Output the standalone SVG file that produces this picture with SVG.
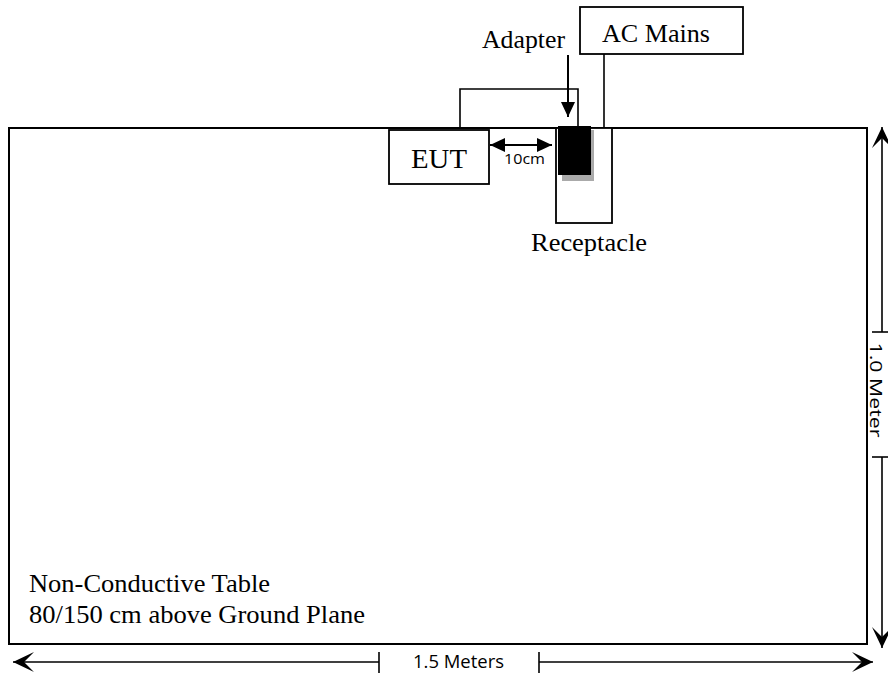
<svg xmlns="http://www.w3.org/2000/svg" width="888" height="674" viewBox="0 0 888 674">
<defs>
<style>
.box{fill:#fff;stroke:#000;stroke-width:1.8}
.ln{fill:none;stroke:#000;stroke-width:1.6}
.serif{font-family:"Liberation Serif","Times New Roman",serif;fill:#000}
.sans{font-family:"Open Sans","Liberation Sans",sans-serif;fill:#000}
</style>
<marker id="big" markerUnits="userSpaceOnUse" markerWidth="24" markerHeight="24" viewBox="-22 -12 24 24" refX="0" refY="0" orient="auto-start-reverse" overflow="visible">
<path d="M0,0 L-21,-10 L-11,0 L-21,10 Z" fill="#000"/>
</marker>
<marker id="small" markerUnits="userSpaceOnUse" markerWidth="18" markerHeight="16" viewBox="-16 -8 18 16" refX="0" refY="0" orient="auto-start-reverse" overflow="visible">
<path d="M0,0 L-15,-7 L-15,7 Z" fill="#000"/>
</marker>
</defs>
<rect width="888" height="674" fill="#fff"/>

<g id="table">
<rect x="9" y="128" width="858" height="516" fill="#fff" stroke="#000" stroke-width="2"/>
<text class="serif" x="29" y="592" font-size="26" textLength="241" lengthAdjust="spacingAndGlyphs">Non-Conductive Table</text>
<text class="serif" x="29" y="623" font-size="26" textLength="336" lengthAdjust="spacingAndGlyphs">80/150 cm above Ground Plane</text>
</g>

<g id="cable">
<path class="ln" d="M460,128 V89 H578 V128"/>
</g>

<g id="eut">
<rect class="box" x="389" y="130" width="100" height="54"/>
<text class="serif" x="411" y="168" font-size="28" textLength="56" lengthAdjust="spacingAndGlyphs">EUT</text>
</g>

<g id="receptacle">
<rect class="box" x="556" y="128" width="56" height="95"/>
<text class="serif" x="531" y="251" font-size="26" textLength="116" lengthAdjust="spacingAndGlyphs">Receptacle</text>
</g>

<g id="adapter">
<rect x="562" y="130" width="32" height="51" fill="#aaa"/>
<rect x="558" y="126" width="33" height="49" fill="#000"/>
<text class="serif" x="482" y="48" font-size="26" textLength="83" lengthAdjust="spacingAndGlyphs">Adapter</text>
</g>

<g id="ac-mains">
<rect class="box" x="580" y="7" width="163" height="47"/>
<text class="serif" x="602" y="42" font-size="26" textLength="108" lengthAdjust="spacingAndGlyphs">AC Mains</text>
</g>

<g id="connectors">
<line class="ln" x1="604" y1="54" x2="604" y2="128"/>
<line x1="568" y1="55" x2="568" y2="117" stroke="#000" stroke-width="2" marker-end="url(#small)"/>
<line x1="490" y1="145" x2="552" y2="145" stroke="#000" stroke-width="2.2" marker-start="url(#small)" marker-end="url(#small)"/>
<text class="sans" x="504" y="164" font-size="15" textLength="41" lengthAdjust="spacingAndGlyphs">10cm</text>

<line class="ln" x1="13" y1="662" x2="379" y2="662" marker-start="url(#big)"/>
<line class="ln" x1="539" y1="662" x2="873" y2="662" marker-end="url(#big)"/>
<line class="ln" x1="379" y1="652" x2="379" y2="673"/>
<line class="ln" x1="539" y1="652" x2="539" y2="673"/>
<text class="sans" x="413" y="668" font-size="18" textLength="91" lengthAdjust="spacingAndGlyphs">1.5 Meters</text>

<line class="ln" x1="882" y1="127" x2="882" y2="332" marker-start="url(#big)"/>
<line class="ln" x1="882" y1="457" x2="882" y2="648" marker-end="url(#big)"/>
<line class="ln" x1="872" y1="332" x2="888" y2="332"/>
<line class="ln" x1="872" y1="457" x2="888" y2="457"/>
<text class="sans" transform="translate(870,390) rotate(90)" text-anchor="middle" font-size="17" textLength="95" lengthAdjust="spacingAndGlyphs">1.0 Meter</text>
</g>
</svg>
